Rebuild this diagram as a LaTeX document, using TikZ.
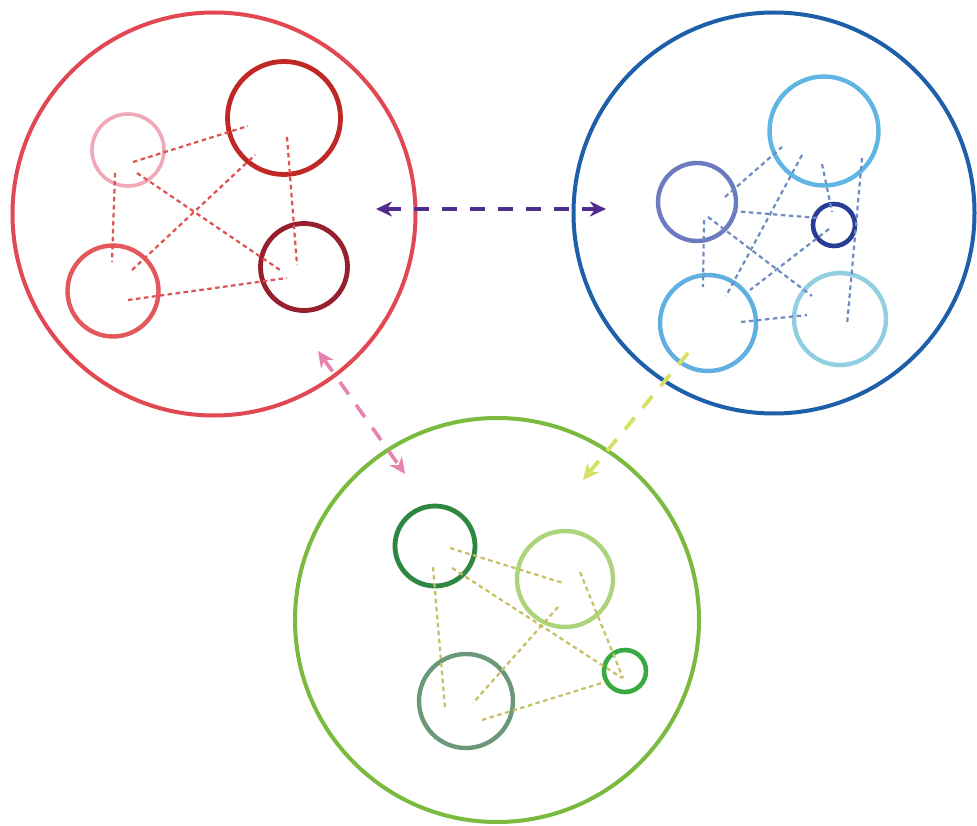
\documentclass[tikz,border=0pt]{standalone}
\usetikzlibrary{arrows.meta}
\definecolor{redbig}{RGB}{226,72,82}
\definecolor{pinkc}{RGB}{240,168,182}
\definecolor{darkred}{RGB}{192,40,38}
\definecolor{llred}{RGB}{226,88,92}
\definecolor{maroon}{RGB}{150,32,45}
\definecolor{reddash}{RGB}{222,82,82}
\definecolor{bluebig}{RGB}{30,95,170}
\definecolor{ltblue}{RGB}{95,182,228}
\definecolor{purpleblue}{RGB}{108,122,192}
\definecolor{navy}{RGB}{40,60,150}
\definecolor{blue2}{RGB}{95,175,225}
\definecolor{tealc}{RGB}{145,206,226}
\definecolor{bluedash}{RGB}{110,140,192}
\definecolor{greenbig}{RGB}{122,186,62}
\definecolor{dkgreen}{RGB}{45,135,65}
\definecolor{ltgreen}{RGB}{172,212,122}
\definecolor{graygreen}{RGB}{108,152,122}
\definecolor{midgreen}{RGB}{55,170,65}
\definecolor{greendash}{RGB}{200,190,100}
\definecolor{purplearr}{RGB}{78,45,142}
\definecolor{pinkarr}{RGB}{232,130,175}
\definecolor{yellowarr}{RGB}{214,224,100}
\tikzset{
  bigc/.style={circle, draw, line width=4pt, inner sep=0pt, minimum size=#1},
  smc/.style={circle, draw, line width=4.4pt, inner sep=0pt, minimum size=#1},
  link/.style={line width=2.2pt, dash pattern=on 4.5pt off 3.5pt},
  bigarrow/.style={line width=4pt, dash pattern=on 15pt off 13pt}
}
\begin{document}
\begin{tikzpicture}[x=1pt,y=-1pt]
\useasboundingbox (0,0) rectangle (977,826);
\fill[white] (0,0) rectangle (977,826);
% big circles
\node[bigc=403pt, draw=redbig] (R) at (214,214) {};
\node[bigc=401pt, draw=bluebig] (B) at (774,213) {};
\node[bigc=404pt, draw=greenbig] (G) at (497,620) {};

% ---- red group
\node[smc=72pt, draw=pinkc, line width=3.6pt] (r1) at (128,150) {};
\node[smc=113pt, draw=darkred, line width=4.8pt] (r2) at (284,118) {};
\node[smc=91pt, draw=llred] (r3) at (113,291) {};
\node[smc=87pt, draw=maroon, line width=4.8pt] (r4) at (304,267) {};
\coordinate (ra) at (133,162); \coordinate (rb) at (248,126);
\coordinate (rc) at (115,173); \coordinate (rd) at (112,262);
\coordinate (re) at (137,173); \coordinate (rf) at (280,270);
\coordinate (rg) at (132,270); \coordinate (rh) at (255,155);
\coordinate (ri) at (287,137); \coordinate (rj) at (297,265);
\coordinate (rk) at (128,300); \coordinate (rl) at (287,278);
\begin{scope}[link, draw=reddash]
\draw (ra) -- (rb);
\draw (rc) -- (rd);
\draw (re) -- (rf);
\draw (rg) -- (rh);
\draw (ri) -- (rj);
\draw (rk) -- (rl);
\end{scope}

% ---- blue group
\node[smc=109pt, draw=ltblue] (b1) at (824,131) {};
\node[smc=78pt, draw=purpleblue] (b2) at (697,202) {};
\node[smc=42pt, draw=navy, line width=4.6pt] (b3) at (834,225) {};
\node[smc=96pt, draw=blue2] (b4) at (708,323) {};
\node[smc=92pt, draw=tealc] (b5) at (840,319) {};
\coordinate (ba) at (725,197); \coordinate (bb) at (782,147);
\coordinate (bc) at (733,211); \coordinate (bd) at (818,218);
\coordinate (be) at (704,220); \coordinate (bf) at (703,287);
\coordinate (bg) at (708,217); \coordinate (bh) at (812,296);
\coordinate (bi) at (802,155); \coordinate (bj) at (726,296);
\coordinate (bk) at (822,164); \coordinate (bl) at (832,212);
\coordinate (bm) at (862,158); \coordinate (bn) at (847,325);
\coordinate (bo) at (829,229); \coordinate (bp) at (750,290);
\coordinate (bq) at (741,322); \coordinate (br) at (807,315);
\begin{scope}[link, draw=bluedash]
\draw (ba) -- (bb);
\draw (bc) -- (bd);
\draw (be) -- (bf);
\draw (bg) -- (bh);
\draw (bi) -- (bj);
\draw (bk) -- (bl);
\draw (bm) -- (bn);
\draw (bo) -- (bp);
\draw (bq) -- (br);
\end{scope}

% ---- green group
\node[smc=80pt, draw=dkgreen, line width=4.8pt] (g1) at (435,546) {};
\node[smc=96pt, draw=ltgreen] (g2) at (565,579) {};
\node[smc=94pt, draw=graygreen] (g3) at (466,701) {};
\node[smc=42pt, draw=midgreen, line width=4.6pt] (g4) at (625,671) {};
\coordinate (ga) at (450,548); \coordinate (gb) at (563,583);
\coordinate (gc) at (433,567); \coordinate (gd) at (445,708);
\coordinate (ge) at (452,568); \coordinate (gf) at (622,678);
\coordinate (gg) at (580,572); \coordinate (gh) at (623,678);
\coordinate (gi) at (558,607); \coordinate (gj) at (473,703);
\coordinate (gk) at (482,720); \coordinate (gl) at (605,682);
\begin{scope}[link, draw=greendash]
\draw (ga) -- (gb);
\draw (gc) -- (gd);
\draw (ge) -- (gf);
\draw (gg) -- (gh);
\draw (gi) -- (gj);
\draw (gk) -- (gl);
\end{scope}

% ---- arrows between groups
\coordinate (pa) at (376,209); \coordinate (pb) at (606,209);
\coordinate (qa) at (318,351); \coordinate (qb) at (405,474);
\coordinate (ya) at (688,353); \coordinate (yb) at (583,480);
\draw[bigarrow, draw=purplearr, {Stealth[length=16pt,width=15pt,inset=5pt,fill=purplearr]}-{Stealth[length=16pt,width=15pt,inset=5pt,fill=purplearr]}] (pa) -- (pb);
\draw[bigarrow, draw=pinkarr, line width=3.6pt, {Stealth[length=16pt,width=15pt,inset=5pt,fill=pinkarr]}-{Stealth[length=16pt,width=15pt,inset=5pt,fill=pinkarr]}] (qa) -- (qb);
\draw[bigarrow, draw=yellowarr, line width=3.8pt, -{Stealth[length=16pt,width=15pt,inset=5pt,fill=yellowarr]}] (ya) -- (yb);
\end{tikzpicture}
\end{document}
